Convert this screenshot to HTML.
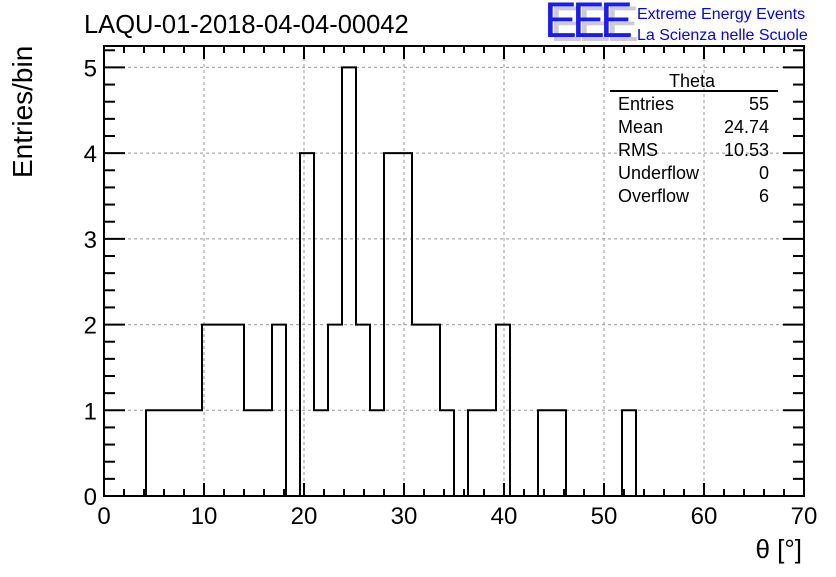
<!DOCTYPE html>
<html><head><meta charset="utf-8"><style>
body{margin:0;background:#fff;}
svg text{font-family:"Liberation Sans",sans-serif;}
</style></head><body>
<svg id="chart" width="836" height="572" viewBox="0 0 836 572" xmlns="http://www.w3.org/2000/svg">
<rect width="836" height="572" fill="#fff"/>
<g id="grid"></g>
<g id="hist"></g>
<g id="axes"></g>
<text x="84" y="33" font-size="25.5">LAQU-01-2018-04-04-00042</text>
<g>
<text x="550" y="41" font-size="50" fill="#ccc" letter-spacing="-5" textLength="84" lengthAdjust="spacingAndGlyphs">EEE</text>
<text x="544" y="37" font-size="50" fill="#1a1aff" letter-spacing="-5" textLength="84" lengthAdjust="spacingAndGlyphs">EEE</text>
<text x="637" y="19" font-size="16" fill="#0000ff">Extreme Energy Events</text>
<text x="637" y="40" font-size="16" fill="#0000ff">La Scienza nelle Scuole</text>
</g>
<g font-size="18">
<text x="692" y="87" text-anchor="middle">Theta</text>
<line x1="610" y1="91" x2="778" y2="91" stroke="#000" stroke-width="2"/>
<text x="618" y="110">Entries</text><text x="769" y="110" text-anchor="end">55</text>
<text x="618" y="133">Mean</text><text x="769" y="133" text-anchor="end">24.74</text>
<text x="618" y="156">RMS</text><text x="769" y="156" text-anchor="end">10.53</text>
<text x="618" y="179">Underflow</text><text x="769" y="179" text-anchor="end">0</text>
<text x="618" y="202">Overflow</text><text x="769" y="202" text-anchor="end">6</text>
</g>
<text x="802" y="558" font-size="26" text-anchor="end">θ [°]</text>
<text transform="translate(32,178) rotate(-90)" font-size="28">Entries/bin</text>
</svg>
<script>
const counts=[0,0,0,1,1,1,1,2,2,2,1,1,2,0,4,1,2,5,2,1,4,4,2,2,1,0,1,1,2,0,0,1,1,0,0,0,0,1,0,0,0,0,0,0,0,0,0,0,0,0];
const binWidth=[1.4];
const xTicks=[0,10,20,30,40,50,60,70];
const yTicks=[0,1,2,3,4,5];
const X0=104,X1=804,Y0=496,Y1=46,XMAX=70,YMAX=5.25;
const sx=v=>X0+(v/XMAX)*(X1-X0);
const sy=v=>Y0-(v/YMAX)*(Y0-Y1);
const NS='http://www.w3.org/2000/svg';
function mk(tag,attrs,parent){const e=document.createElementNS(NS,tag);for(const k in attrs)e.setAttribute(k,attrs[k]);parent.appendChild(e);return e;}
const grid=document.getElementById('grid'),hist=document.getElementById('hist'),axes=document.getElementById('axes');
xTicks.forEach(t=>{if(t>0&&t<XMAX){const l=mk('line',{x1:sx(t),x2:sx(t),y1:Y1,y2:Y0,stroke:'#999','stroke-dasharray':'3,3'},grid);

}});
yTicks.forEach(t=>{if(t>0){const l=mk('line',{x1:X0,x2:X1,y1:sy(t),y2:sy(t),stroke:'#999','stroke-dasharray':'3,3'},grid);

}});
let d='M'+sx(0)+','+sy(0);
counts.forEach((c,i)=>{const a=i*binWidth[0],b=(i+1)*binWidth[0];d+=' L'+sx(a)+','+sy(c)+' L'+sx(b)+','+sy(c);});
d+=' L'+sx(counts.length*binWidth[0])+','+sy(0);
const p=mk('path',{d:d,fill:'none',stroke:'#000','stroke-width':2},hist);


const fr=mk('rect',{x:X0,y:Y1,width:X1-X0,height:Y0-Y1,fill:'none',stroke:'#000','stroke-width':2},axes);


for(let v=0;v<=XMAX+0.001;v+=2){const maj=Math.abs(v%10)<0.01;const L=maj?13:7;
mk('line',{x1:sx(v),x2:sx(v),y1:Y0,y2:Y0-L,stroke:'#000','stroke-width':2},axes);
mk('line',{x1:sx(v),x2:sx(v),y1:Y1,y2:Y1+L,stroke:'#000','stroke-width':2},axes);}
for(let v=0;v<=YMAX+0.001;v+=0.2){const maj=Math.abs(v-Math.round(v))<0.01;const L=maj?21:11;
mk('line',{x1:X0,x2:X0+L,y1:sy(v),y2:sy(v),stroke:'#000','stroke-width':2},axes);
mk('line',{x1:X1,x2:X1-L,y1:sy(v),y2:sy(v),stroke:'#000','stroke-width':2},axes);}
xTicks.forEach(t=>{const e=mk('text',{x:sx(t),y:Y0+28,'font-size':24,'text-anchor':'middle'},axes);e.textContent=t;

});
yTicks.forEach(t=>{const e=mk('text',{x:X0-7,y:sy(t)+9,'font-size':24,'text-anchor':'end'},axes);e.textContent=t;

});
</script>
</body></html>
